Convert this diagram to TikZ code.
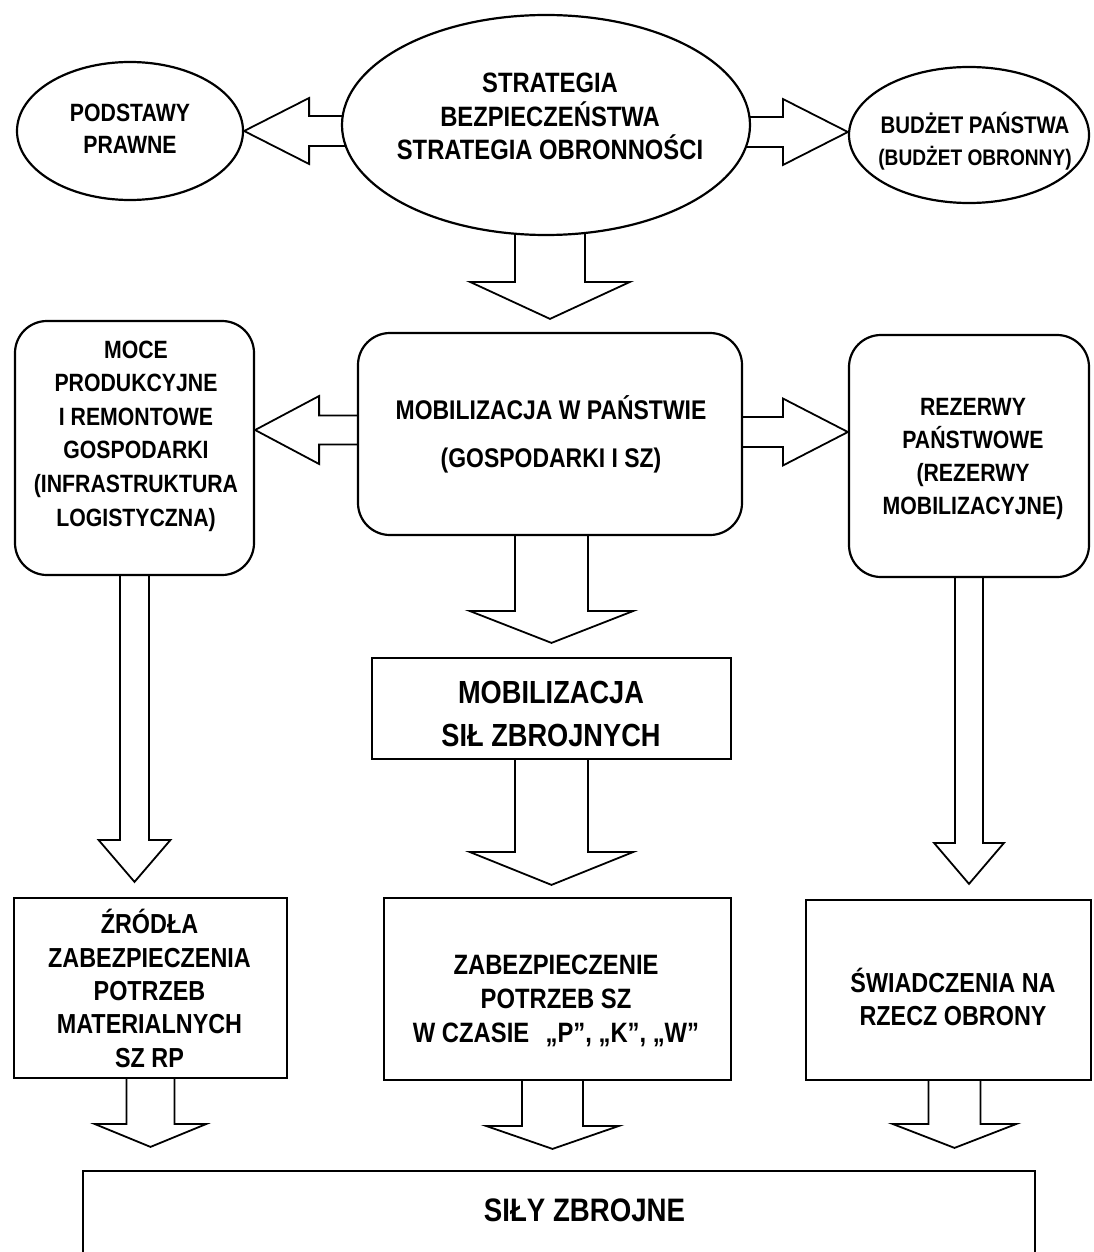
\documentclass[tikz,border=0pt]{standalone}
\usepackage{fontspec}
\setmainfont{Liberation Sans}[FakeStretch=0.85]
\usetikzlibrary{shapes.geometric,calc}
\pgfdeclarelayer{bg}
\pgfsetlayers{bg,main}
\tikzset{
  shp/.style={draw, line width=2.2pt, fill=white, inner sep=0pt},
  ell/.style={shp, ellipse},
  rbox/.style={shp, rectangle, rounded corners=32pt},
  sbox/.style={shp, rectangle},
  fat/.style={draw, line width=1.8pt, fill=white, line join=miter},
  txt/.style={align=center, inner sep=0pt},
  fs/.style 2 args={font=\fontsize{#1pt}{#2pt}\selectfont\bfseries}
}
\begin{document}
\begin{tikzpicture}[x=1pt,y=-1pt]
\useasboundingbox (0,0) rectangle (1093,1252);
% shapes
\node[ell, minimum width=226pt, minimum height=138pt] (podst) at (130,131) {};
\node[ell, minimum width=408pt, minimum height=220pt] (strat) at (546,125) {};
\node[ell, minimum width=240pt, minimum height=136pt] (budz) at (969,135) {};
\node[rbox, minimum width=239pt, minimum height=254pt] (moce) at (134.5,448) {};
\node[rbox, minimum width=384pt, minimum height=202pt] (mobp) at (550,434) {};
\node[rbox, minimum width=240pt, minimum height=242pt] (rez) at (969,456) {};
\node[sbox, minimum width=359pt, minimum height=101pt] (mobsz) at (551.5,708.5) {};
\node[sbox, minimum width=273pt, minimum height=180pt] (zrod) at (150.5,988) {};
\node[sbox, minimum width=347pt, minimum height=182pt] (zab) at (557.5,989) {};
\node[sbox, minimum width=285pt, minimum height=180pt] (swiad) at (948.5,990) {};
\node[sbox, minimum width=952pt, minimum height=95pt] (sily) at (559,1218.5) {};
% block arrows
\begin{pgfonlayer}{bg}
\draw[fat] (podst.east) -- ++(65,-33) -- ++(0,18) -- ++(45,0) -- ++(0,30) -- ++(-45,0) -- ++(0,18) -- cycle;
\draw[fat] ([yshift=3pt]budz.west) -- ++(-65,-33) -- ++(0,18) -- ++(-45,0) -- ++(0,30) -- ++(45,0) -- ++(0,18) -- cycle;
\draw[fat] ([yshift=13pt]mobp.north) -- ++(-80,-37) -- ++(45,0) -- ++(0,-60) -- ++(70,0) -- ++(0,60) -- ++(45,0) -- cycle;
\draw[fat] ($(moce.east |- mobp.west)+(0,-4)$) -- ++(64,-34) -- ++(0,19.5) -- ++(52,0) -- ++(0,29) -- ++(-52,0) -- ++(0,19.5) -- cycle;
\draw[fat] ($(rez.west |- mobp.east)+(0,-2)$) -- ++(-65,-33.5) -- ++(0,18.5) -- ++(-54,0) -- ++(0,30) -- ++(54,0) -- ++(0,18.5) -- cycle;
\draw[fat] ([yshift=14pt]mobsz.north) -- ++(-82,-32) -- ++(45.5,0) -- ++(0,-89) -- ++(73,0) -- ++(0,89) -- ++(45.5,0) -- cycle;
\draw[fat] ($(mobsz.south |- zab.north)+(0,-12)$) -- ++(-82,-33) -- ++(45.5,0) -- ++(0,-106) -- ++(73,0) -- ++(0,106) -- ++(45.5,0) -- cycle;
\draw[fat] ($(moce.south |- zrod.north)+(0,-15)$) -- ++(-36,-42) -- ++(21.5,0) -- ++(0,-278) -- ++(29,0) -- ++(0,278) -- ++(21.5,0) -- cycle;
\draw[fat] ($(rez.south |- swiad.north)+(0,-15)$) -- ++(-35,-41) -- ++(21,0) -- ++(0,-279) -- ++(28,0) -- ++(0,279) -- ++(21,0) -- cycle;
\draw[fat] ($(zrod.south |- sily.north)+(0,-23)$) -- ++(-56,-23) -- ++(32,0) -- ++(0,-59) -- ++(48,0) -- ++(0,59) -- ++(32,0) -- cycle;
\draw[fat] ($(zab.south |- sily.north)+(-5,-21)$) -- ++(-66.5,-23) -- ++(36,0) -- ++(0,-59) -- ++(61,0) -- ++(0,59) -- ++(36,0) -- cycle;
\draw[fat] ($(swiad.south |- sily.north)+(6,-22)$) -- ++(-62,-24) -- ++(36,0) -- ++(0,-57) -- ++(52,0) -- ++(0,57) -- ++(36,0) -- cycle;
\end{pgfonlayer}
% texts
\node[txt, fs={28}{33.5}] (tstrat) at (550,116.5) {STRATEGIA\\BEZPIECZEŃSTWA\\STRATEGIA OBRONNOŚCI};
\node[txt, fs={25}{32}] (tpodst) at (130,129) {PODSTAWY\\PRAWNE};
\node[txt, fs={24}{32}] (tbudz) at (975,141) {BUDŻET PAŃSTWA\\{\fontsize{22.5pt}{32pt}\selectfont (BUDŻET OBRONNY)}};
\node[txt, fs={27}{48}] (tmobp) at (551,434) {MOBILIZACJA W PAŃSTWIE\\(GOSPODARKI I SZ)};
\node[txt, fs={25}{33.6}] (tmoce) at (136,436) {MOCE\\PRODUKCYJNE\\I REMONTOWE\\GOSPODARKI\\(INFRASTRUKTURA\\LOGISTYCZNA)};
\node[txt, fs={25}{33}] (trez) at (973,459) {REZERWY\\PAŃSTWOWE\\(REZERWY\\MOBILIZACYJNE)};
\node[txt, fs={32}{43}] (tmobsz) at (551,713.5) {MOBILIZACJA\\SIŁ ZBROJNYCH};
\node[txt, fs={27.5}{33.3}] (tzrod) at (149.5,988.5) {ŹRÓDŁA\\ZABEZPIECZENIA\\POTRZEB\\MATERIALNYCH\\SZ RP};
\node[txt, fs={28}{34}] (tzab) at (556,1001) {ZABEZPIECZENIE\\POTRZEB SZ\\W CZASIE\hspace{0.35em} „P”, „K”, „W”};
\node[txt, fs={27.5}{33}] (tswiad) at (953,996.5) {ŚWIADCZENIA NA\\RZECZ OBRONY};
\node[txt, fs={32.5}{40}] (tsily) at (584.5,1210) {SIŁY ZBROJNE};
\end{tikzpicture}
\end{document}
